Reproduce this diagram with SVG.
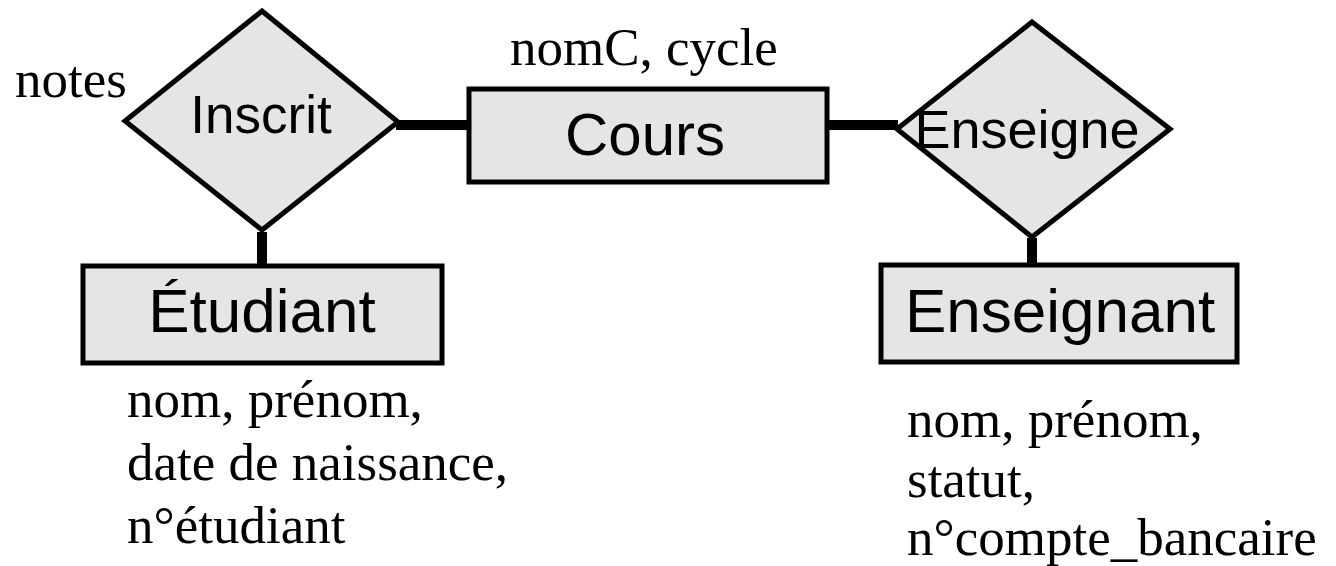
<svg xmlns="http://www.w3.org/2000/svg" width="1336" height="566" viewBox="0 0 1336 566">
<style>
.shape{fill:#e5e5e5;stroke:#000;stroke-width:5;stroke-linejoin:miter}
.lbl{font-family:"Liberation Sans",Arial,sans-serif;fill:#000;text-anchor:middle}
.attr{font-family:"Liberation Serif","Times New Roman",serif;fill:#000;font-size:53px}
.conn{stroke:#000;stroke-width:10;fill:none}
</style>
<rect width="1336" height="566" fill="#fff"/>
<g id="connectors">
<line class="conn" x1="396" y1="125" x2="472" y2="125"/>
<line class="conn" x1="826" y1="125" x2="898" y2="125"/>
<line class="conn" x1="262" y1="232" x2="262" y2="268"/>
<line class="conn" x1="1032" y1="238" x2="1032" y2="267"/>
</g>
<g id="inscrit">
<polygon class="shape" points="262,11 398,122 262,230 125,121"/>
<text class="lbl" x="261" y="133" font-size="53">Inscrit</text>
<text class="attr" x="15" y="97">notes</text>
</g>
<g id="cours">
<rect class="shape" x="469" y="89" width="358" height="93"/>
<text class="lbl" x="645" y="155" font-size="60">Cours</text>
<text class="attr" x="510" y="65" font-size="55">nomC, cycle</text>
</g>
<g id="enseigne">
<polygon class="shape" points="1032,22 1170,129 1032,237 897,129"/>
<text class="lbl" x="1027" y="148" font-size="54">Enseigne</text>
</g>
<g id="etudiant">
<rect class="shape" x="83" y="266" width="359" height="97"/>
<text class="lbl" x="262" y="332" font-size="62">Étudiant</text>
<text class="attr" x="127" y="417">nom, prénom,</text>
<text class="attr" x="127" y="480">date de naissance,</text>
<text class="attr" x="127" y="543">n°étudiant</text>
</g>
<g id="enseignant">
<rect class="shape" x="881" y="265" width="356" height="97"/>
<text class="lbl" x="1060" y="332" font-size="62">Enseignant</text>
<text class="attr" x="907" y="437" font-size="54">nom, prénom,</text>
<text class="attr" x="907" y="497" font-size="54">statut,</text>
<text class="attr" x="907" y="555" font-size="54">n°compte_bancaire</text>
</g>
</svg>
